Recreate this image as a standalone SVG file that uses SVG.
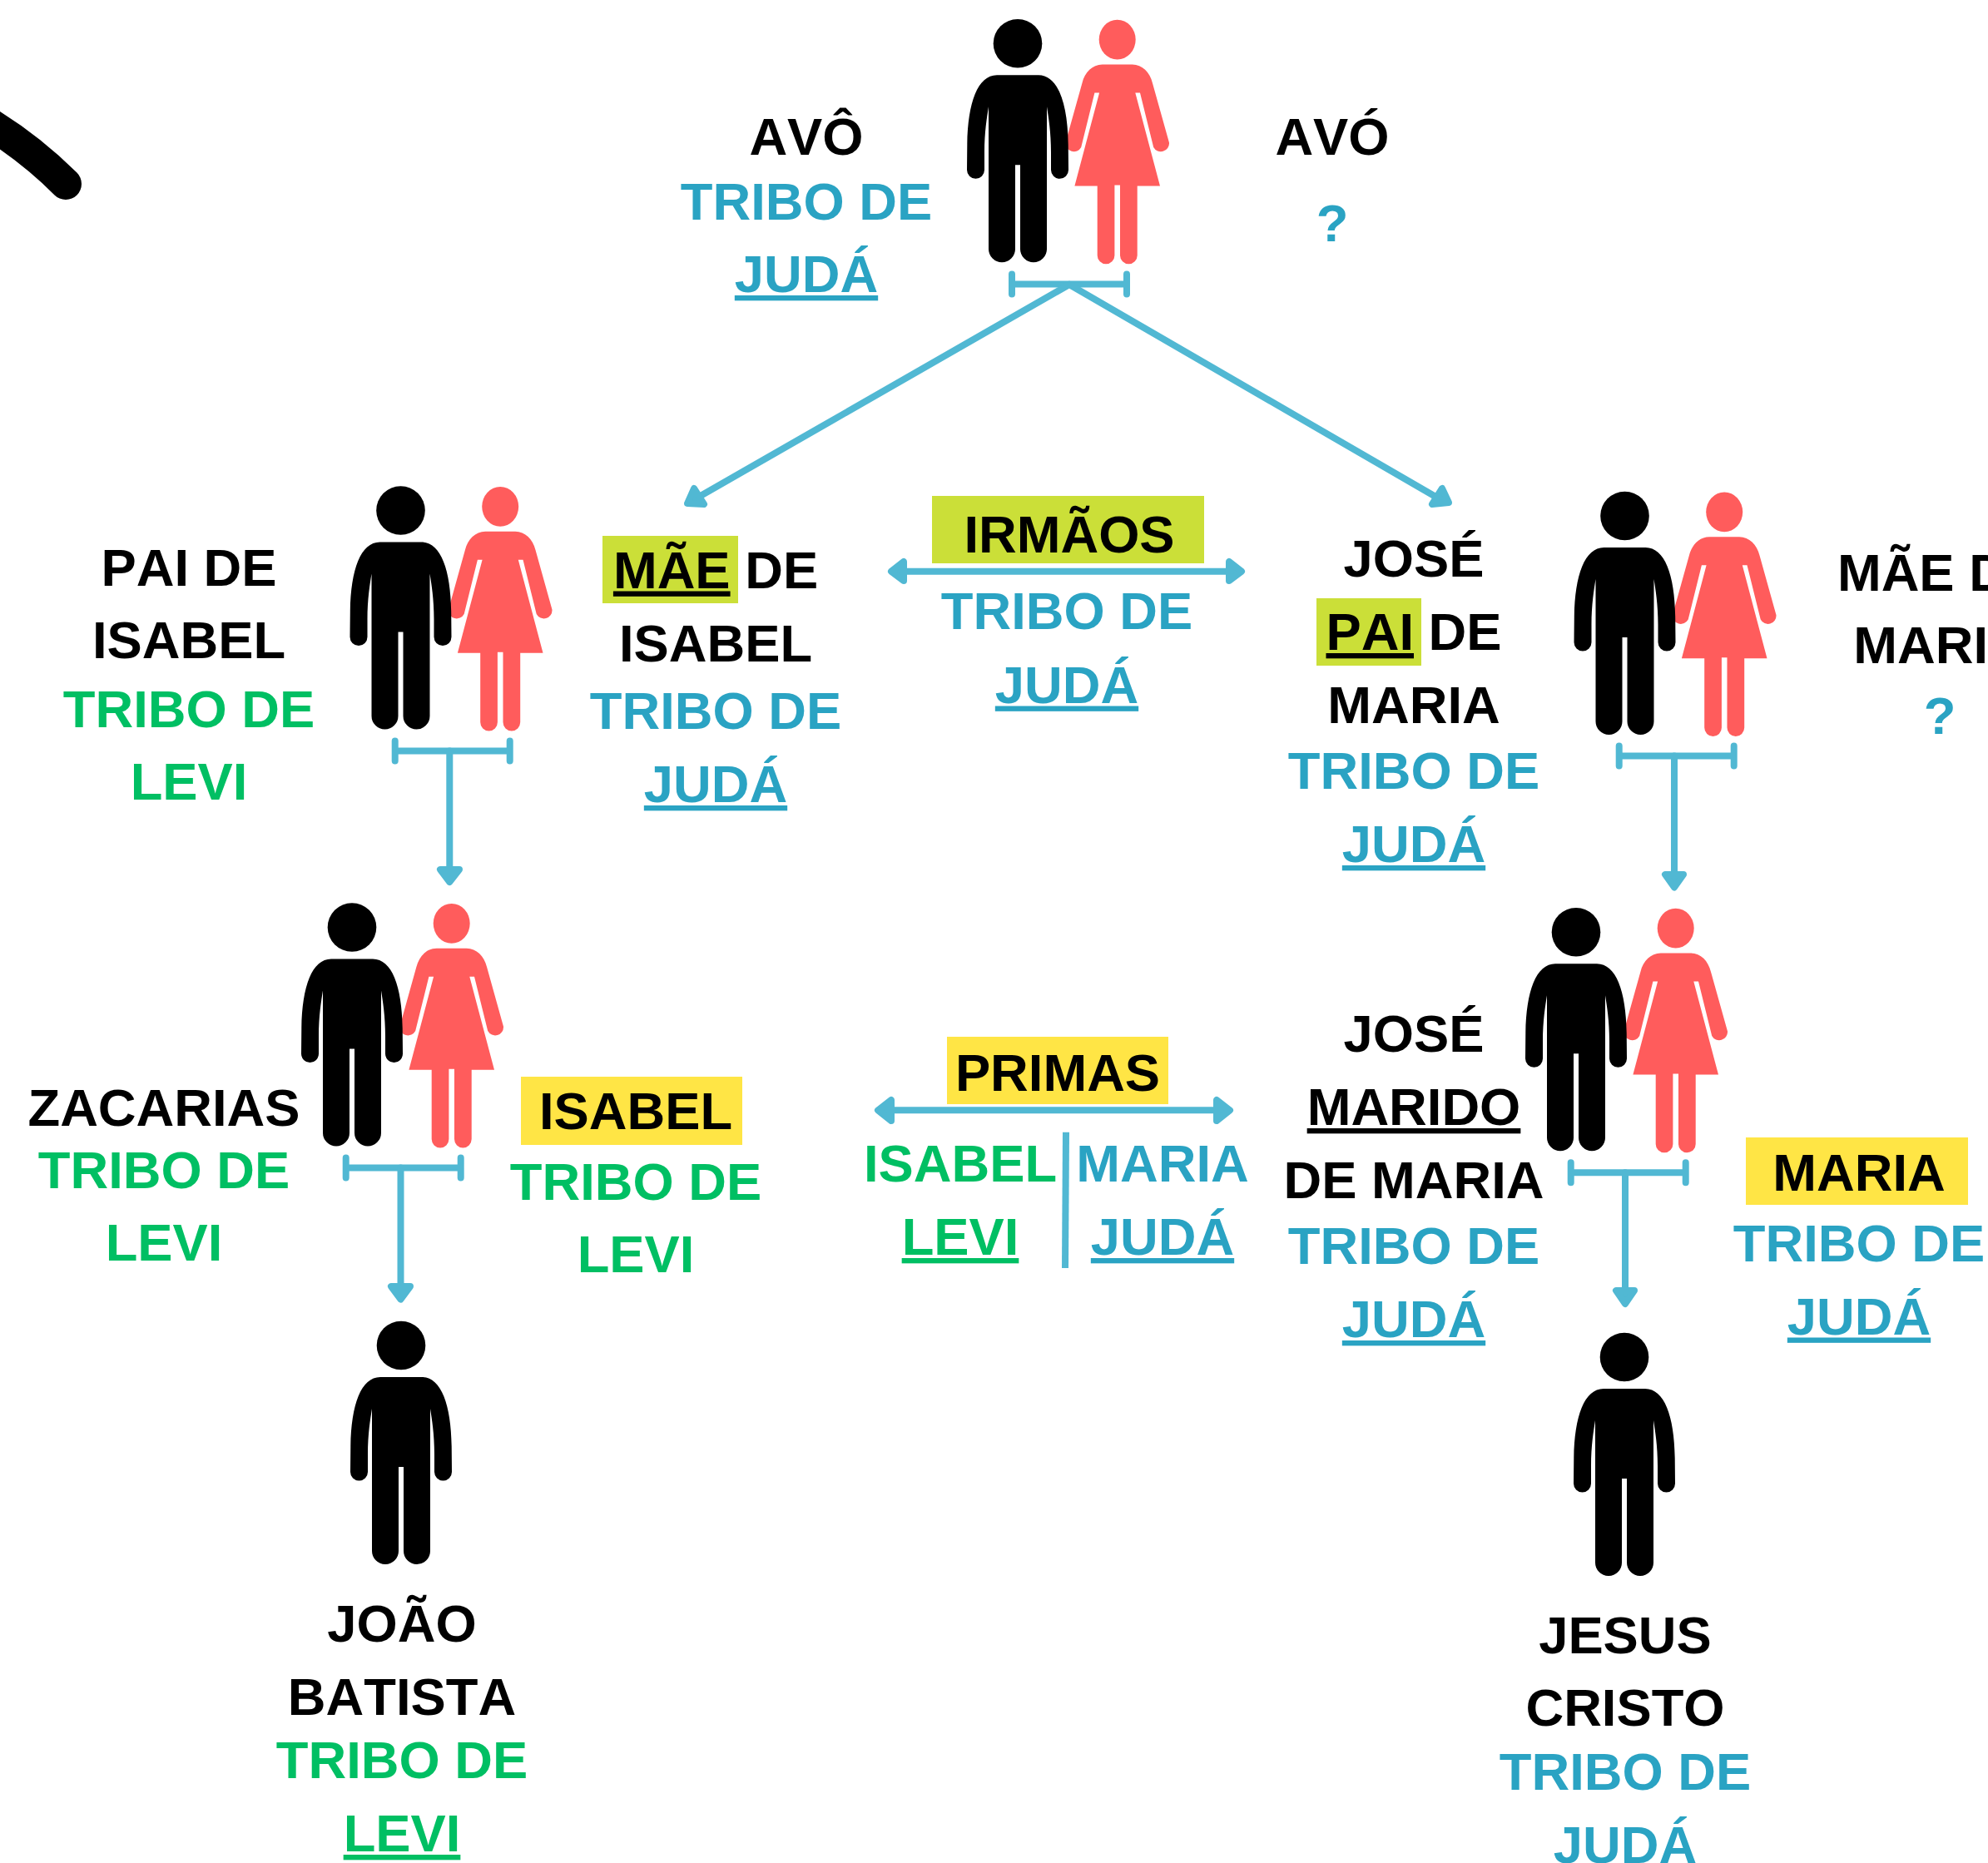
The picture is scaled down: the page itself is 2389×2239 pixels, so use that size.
<svg xmlns="http://www.w3.org/2000/svg" xmlns:xlink="http://www.w3.org/1999/xlink" width="2389" height="2239" viewBox="0 0 2389 2239">
<style>
text{font-family:"Liberation Sans",Arial,sans-serif;font-weight:700;font-size:63.3px;text-anchor:middle;font-kerning:none}
.k{fill:#000}.b{fill:#2aa3c3}.g{fill:#00bf63}
.u{text-decoration:underline}
.c{fill:none;stroke:#51b8d3;stroke-width:8;stroke-linecap:round}
.h{fill:#51b8d3;stroke:#51b8d3;stroke-width:8;stroke-linejoin:round}
</style>
<defs>
<g id="man" fill="#000">
<circle cx="0" cy="29" r="29.3"/>
<path d="M-25 67H25C48 67 60 100 60.7 150L61 181A10.5 10.5 0 0 1 40 181L40 160C40 135 37 118 35 105V276A16 16 0 0 1 3 276V175H-3V276A16 16 0 0 1 -35 276V105C-37 118 -40 135 -40 160L-40 181A10.5 10.5 0 0 1 -61 181L-60.7 150C-60 100 -48 67 -25 67Z"/>
</g>
<g id="woman" fill="#ff5c5c">
<ellipse cx="0" cy="23.7" rx="22" ry="23.9"/>
<path d="M-18 53.7H18C30 53.7 39 63 42.3 76L62.3 147.7A10 10 0 0 1 43.5 153L27.3 87.7H21.6L51.3 199.7H24V283A10.3 10.3 0 0 1 3.3 283V198.7H-3.3V283A10.3 10.3 0 0 1 -24 283V199.7H-51.3L-21.6 87.7H-27.3L-43.5 153A10 10 0 0 1 -62.3 147.7L-42.3 76C-39 63 -30 53.7 -18 53.7Z"/>
</g>
<g id="couple">
<use xlink:href="#woman" x="119.7" y="23.6"/>
<use xlink:href="#man" x="0" y="23"/>
</g>
<path id="bar" class="c" d="M-69 0H69M-69 -12V12M69 -12V12"/>
</defs>
<rect width="2389" height="2239" fill="#fff"/>
<path id="stroke-mark" d="M-20 144Q35 177 79 221" fill="none" stroke="#000" stroke-width="38" stroke-linecap="round"/>
<g id="connectors">
<use xlink:href="#bar" x="1285" y="341.5"/>
<path class="c" d="M1285 342L840 597M1285 342L1727 598"/>
<path class="h" d="M826 605L834 587L846 606Z"/>
<path class="h" d="M1741 604L1733 587L1721 606Z"/>
<use xlink:href="#bar" x="543.7" y="902.5"/>
<path class="c" d="M540.3 902.5V1045"/><path class="h" d="M540.3 1060L529 1045H552Z"/>
<use xlink:href="#bar" x="2014.7" y="908.5"/>
<path class="c" d="M2012 908.5V1051"/><path class="h" d="M2012 1066.5L2001 1051H2023Z"/>
<use xlink:href="#bar" x="484.7" y="1403.5"/>
<path class="c" d="M481.5 1403.5V1546"/><path class="h" d="M481.5 1561.5L470 1546H493Z"/>
<use xlink:href="#bar" x="1956.7" y="1409.3"/>
<path class="c" d="M1953 1409.3V1551"/><path class="h" d="M1953 1567L1942 1551H1964Z"/>
<path class="c" d="M1086 686.7H1477"/>
<path class="h" d="M1071 686.7L1086 675V698Z"/><path class="h" d="M1492 686.7L1477 675V698Z"/>
<path class="c" d="M1071 1334.3H1462"/>
<path class="h" d="M1055 1334.3L1071 1322V1347Z"/><path class="h" d="M1478 1334.3L1462 1322V1347Z"/>
<path d="M1281 1360.7L1280 1524" fill="none" stroke="#51b8d3" stroke-width="8"/>
</g>
<g id="node-avos">
<use xlink:href="#couple" x="1223" y="0.3"/>
<text class="k" x="969" y="186">AVÔ</text>
<text class="b" x="969" y="263.5">TRIBO DE</text>
<text class="b u" x="969" y="351">JUDÁ</text>
<text class="k" x="1601" y="186">AVÓ</text>
<text class="b" x="1601" y="289.5">?</text>
</g>
<g id="node-pais-isabel">
<use xlink:href="#couple" x="481.5" y="561.5"/>
<text class="k" x="227" y="704">PAI DE</text>
<text class="k" x="227" y="791">ISABEL</text>
<text class="g" x="227" y="873.5">TRIBO DE</text>
<text class="g" x="227" y="960.5">LEVI</text>
<rect x="724" y="644" width="163" height="81" fill="#cbdf38"/>
<text class="k" x="860" y="706.5"><tspan class="u">MÃE</tspan> DE</text>
<text class="k" x="860" y="794.5">ISABEL</text>
<text class="b" x="860" y="876">TRIBO DE</text>
<text class="b u" x="860" y="964">JUDÁ</text>
</g>
<g id="node-irmaos">
<rect x="1120" y="596" width="327" height="81" fill="#cbdf38"/>
<text class="k" x="1285" y="663.5">IRMÃOS</text>
<text class="b" x="1282" y="755.7">TRIBO DE</text>
<text class="b u" x="1282" y="844.5">JUDÁ</text>
</g>
<g id="node-pais-maria">
<use xlink:href="#couple" x="1952.5" y="568"/>
<text class="k" x="1699" y="692.5">JOSÉ</text>
<rect x="1582" y="719" width="126" height="81" fill="#cbdf38"/>
<text class="k" x="1699" y="781"><tspan class="u">PAI</tspan> DE</text>
<text class="k" x="1699" y="869">MARIA</text>
<text class="b" x="1699" y="948">TRIBO DE</text>
<text class="b u" x="1699" y="1036">JUDÁ</text>
<text class="k" x="2331" y="709.5">MÃE DE</text>
<text class="k" x="2331" y="797">MARIA</text>
<text class="b" x="2331" y="882">?</text>
</g>
<g id="node-zacarias-isabel">
<use xlink:href="#couple" x="423" y="1062.5"/>
<text class="k" x="197" y="1352.5">ZACARIAS</text>
<text class="g" x="197" y="1427.5">TRIBO DE</text>
<text class="g" x="197" y="1514.5">LEVI</text>
<rect x="626" y="1294" width="266" height="82" fill="#ffe545"/>
<text class="k" x="764" y="1357">ISABEL</text>
<text class="g" x="764" y="1441.5">TRIBO DE</text>
<text class="g" x="764" y="1528.5">LEVI</text>
</g>
<g id="node-primas">
<rect x="1138" y="1246" width="266" height="81" fill="#ffe545"/>
<text class="k" x="1271" y="1311">PRIMAS</text>
<text class="g" x="1154" y="1420">ISABEL</text>
<text class="g u" x="1154" y="1508">LEVI</text>
<text class="b" x="1397" y="1420">MARIA</text>
<text class="b u" x="1397" y="1508">JUDÁ</text>
</g>
<g id="node-jose-maria">
<use xlink:href="#couple" x="1894" y="1068.3"/>
<text class="k" x="1699" y="1264">JOSÉ</text>
<text class="k u" x="1699" y="1352">MARIDO</text>
<text class="k" x="1699" y="1440">DE MARIA</text>
<text class="b" x="1699" y="1519">TRIBO DE</text>
<text class="b u" x="1699" y="1607">JUDÁ</text>
<rect x="2098" y="1367" width="267" height="81" fill="#ffe545"/>
<text class="k" x="2234" y="1431">MARIA</text>
<text class="b" x="2234" y="1515.5">TRIBO DE</text>
<text class="b u" x="2234" y="1603.5">JUDÁ</text>
</g>
<g id="node-joao">
<use xlink:href="#man" x="482" y="1588"/>
<text class="k" x="483" y="1973">JOÃO</text>
<text class="k" x="483" y="2060.5">BATISTA</text>
<text class="g" x="483" y="2137">TRIBO DE</text>
<text class="g u" x="483" y="2225">LEVI</text>
</g>
<g id="node-jesus">
<use xlink:href="#man" x="1952" y="1602"/>
<text class="k" x="1953" y="1986.5">JESUS</text>
<text class="k" x="1953" y="2073.5">CRISTO</text>
<text class="b" x="1953" y="2151">TRIBO DE</text>
<text class="b u" x="1953" y="2239">JUDÁ</text>
</g>
</svg>
